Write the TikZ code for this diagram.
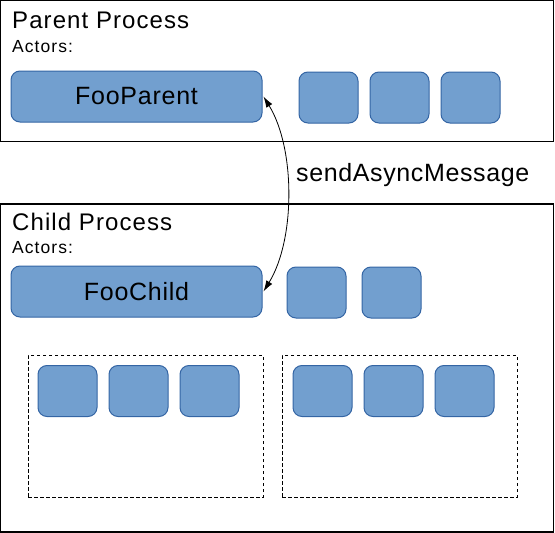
\documentclass[tikz,border=0pt]{standalone}
\usepackage{fontspec}
\setmainfont{Liberation Sans}
\usetikzlibrary{arrows.meta}
\definecolor{actfill}{HTML}{729FCF}
\definecolor{actline}{HTML}{3465A4}
\tikzset{
  procbox/.style={draw=black, line width=1.4pt, fill=none, inner sep=0pt},
  groupbox/.style={draw=black, line width=0.9pt, dash pattern=on 3.5pt off 2.5pt, inner sep=0pt},
  actor/.style={draw=actline, fill=actfill, line width=1pt, rounded corners=9pt,
    inner sep=0pt, minimum width=59pt, minimum height=51pt},
  bigactor/.style={actor, minimum width=251pt},
  title/.style={anchor=base west, inner sep=0pt, font=\fontsize{24}{28}\selectfont\addfontfeature{LetterSpace=4.5}},
  sub/.style={anchor=base west, inner sep=0pt, font=\fontsize{17.5}{20}\selectfont\addfontfeature{LetterSpace=6}},
  actlabel/.style={font=\fontsize{25}{29}\selectfont\addfontfeature{LetterSpace=3}},
  msg/.style={anchor=base west, inner sep=0pt, font=\fontsize{25}{29}\selectfont\addfontfeature{LetterSpace=2.5}}
}
\begin{document}
\begin{tikzpicture}[x=1pt, y=-1pt]
\useasboundingbox (0,0) rectangle (555,533);
% process boxes
\node[procbox, minimum width=553pt, minimum height=141pt] (parent) at (277.25,71.25) {};
\node[procbox, minimum width=553pt, minimum height=328pt] (child) at (277.25,368) {};
% titles
\node[title] (ptitle) at (12,28) {Parent Process};
\node[sub] (pact) at (12,52) {Actors:};
\node[title] (ctitle) at (12,230) {Child Process};
\node[sub] (cact) at (12,253) {Actors:};
% parent actors
\node[bigactor] (fp) at (136.5,96.5) {};
\node[actlabel] (fplabel) at (fp.center) {FooParent};
\node[actor] (p1) at (328.5,97.5) {};
\node[actor] (p2) at (399.5,97.5) {};
\node[actor] (p3) at (470.5,97.5) {};
% child actors
\node[bigactor] (fc) at (136.5,291.5) {};
\node[actlabel] (fclabel) at (fc.center) {FooChild};
\node[actor] (c1) at (316.5,292.5) {};
\node[actor] (c2) at (391.5,292.5) {};
% groups
\node[groupbox, minimum width=235pt, minimum height=142pt] (g1) at (145.5,426) {};
\node[groupbox, minimum width=235pt, minimum height=142pt] (g2) at (399.5,426) {};
\node[actor] (g1a) at (67.5,391) {};
\node[actor] (g1b) at (138.5,391) {};
\node[actor] (g1c) at (209.5,391) {};
\node[actor] (g2a) at (322.5,391) {};
\node[actor] (g2b) at (393.5,391) {};
\node[actor] (g2c) at (464.5,391) {};
% message
\node[msg] (msglabel) at (296,181) {sendAsyncMessage};
\draw[line width=0.8pt, {Latex[length=11pt,width=7pt]}-{Latex[length=11pt,width=7pt]}]
  ([xshift=1pt]fp.east) .. controls +(32,52) and +(32,-52) .. ([xshift=1pt]fc.east);
\end{tikzpicture}
\end{document}
